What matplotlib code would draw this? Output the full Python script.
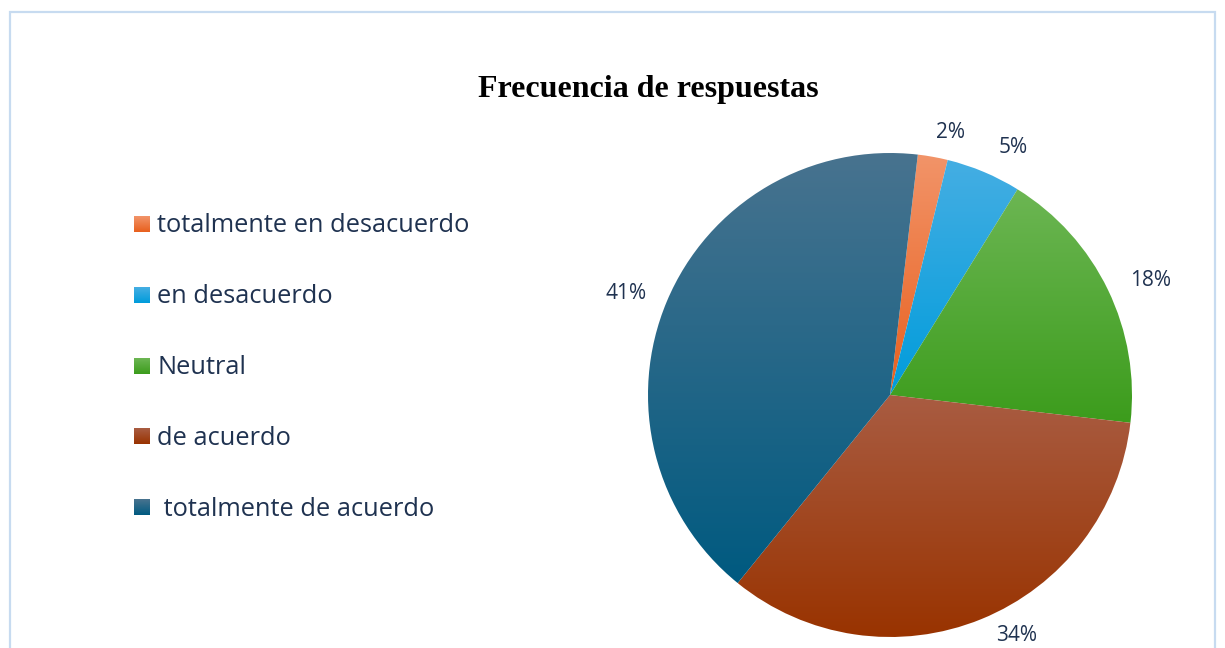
import numpy as np
import matplotlib.pyplot as plt
from matplotlib.patches import Rectangle
from matplotlib.colors import to_rgb

categories = ['totalmente en desacuerdo', 'en desacuerdo', 'Neutral',
              'de acuerdo', ' totalmente de acuerdo']
values = [2, 5, 18, 34, 41]

# (top, bottom) of each slice's vertical gradient
top_colors = ['#F29469', '#45AEE3', '#6CB653', '#A95C42', '#48738F']
bot_colors = ['#E8601E', '#009CDB', '#3C9C1C', '#993300', '#005A80']

# label placement tweaks ("best fit" style): radial factor, angle shift (deg)
label_dist = [1.12, 1.15, 1.18, 1.115, 1.17]
label_shift = [2.6, 3.5, 1.7, -5.8, -1.3]

text_color = '#1F3250'

W, H = 1225, 648
fig = plt.figure(figsize=(W / 100, H / 100), dpi=100)
ax = fig.add_axes([0, 0, 1, 1])

cx, cy, r = 890, H - 395, 242
wedges, _, autotexts = ax.pie(
    values, center=(cx, cy), radius=r, startangle=83.4, counterclock=False,
    autopct='%1.0f%%', pctdistance=1.16,
    textprops=dict(color=text_color, fontsize=15, family='Open Sans'),
    wedgeprops=dict(linewidth=0),
)
for w, a, d, s in zip(wedges, autotexts, label_dist, label_shift):
    # wedges drawn clockwise, so theta1 < theta2 still holds
    ang = np.deg2rad((w.theta1 + w.theta2) / 2 - s)
    a.set_position((cx + d * r * np.cos(ang), cy + d * r * np.sin(ang) - 2))
    a.set_ha('center')
    a.set_va('center')

# gradient fill clipped to each wedge
for w, c0, c1 in zip(wedges, top_colors, bot_colors):
    ext = w.get_path().get_extents()
    t = np.linspace(0, 1, 256)[:, None]
    img = (1 - t) * np.array(to_rgb(c0)) + t * np.array(to_rgb(c1))
    img = np.repeat(img[:, None, :], 2, axis=1)
    im = ax.imshow(img, extent=(ext.x0, ext.x1, ext.y0, ext.y1),
                   origin='upper', aspect='auto', interpolation='bilinear',
                   zorder=1)
    im.set_clip_path(w)
    w.set_facecolor('none')

ax.axis('off')

# chart border
ax.add_patch(Rectangle((10, -20), 1205, H - 12 + 20, fill=False,
                       edgecolor='#C7DBF0', linewidth=1.6, zorder=0))

# title
ax.text(648, H - 90, 'Frecuencia de respuestas', ha='center', va='center',
        fontsize=23, fontweight='bold', family='Liberation Serif', color='black')

# legend
for i, (lab, c0, c1) in enumerate(zip(categories, top_colors, bot_colors)):
    y = H - (224 + i * 70.8)
    t = np.linspace(0, 1, 32)[:, None]
    img = (1 - t) * np.array(to_rgb(c0)) + t * np.array(to_rgb(c1))
    img = np.repeat(img[:, None, :], 2, axis=1)
    ax.imshow(img, extent=(134, 150, y - 8, y + 8), origin='upper',
              aspect='auto', interpolation='bilinear', zorder=2)
    ax.text(157, y - 2, lab, ha='left', va='center', fontsize=18.3,
            family='Open Sans', color=text_color)

ax.set_xlim(0, W)
ax.set_ylim(0, H)

fig.savefig('out.png', dpi=100, facecolor='white')
